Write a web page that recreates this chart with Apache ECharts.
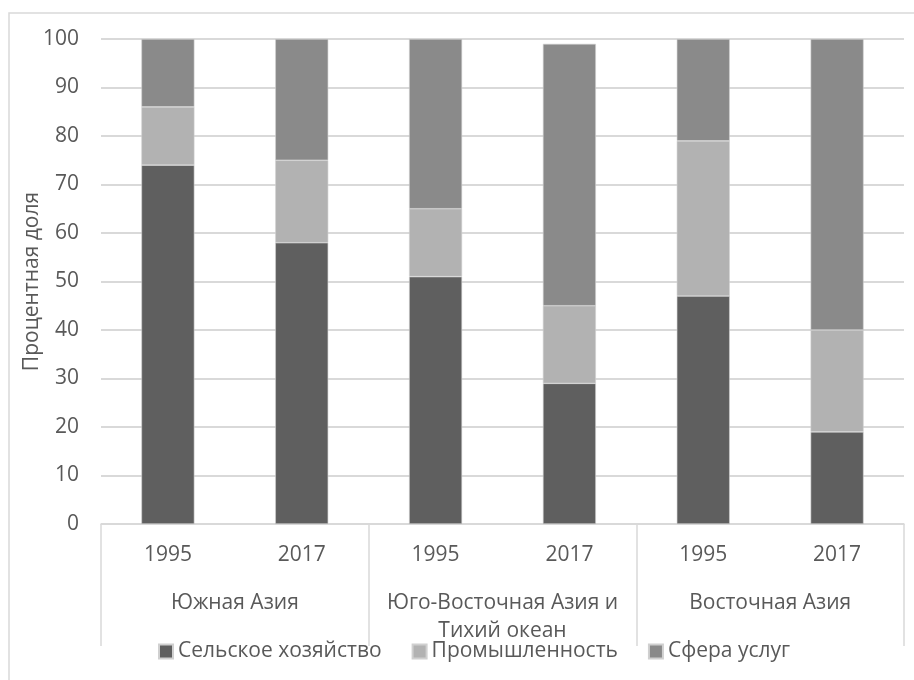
<!DOCTYPE html>
<html>
<head>
<meta charset="utf-8">
<script src="https://cdn.jsdelivr.net/npm/echarts@6/dist/echarts.min.js"></script>
<style>
  html, body { margin: 0; padding: 0; background: #fff; }
  #chart { width: 914px; height: 680px; }
</style>
</head>
<body>
<div id="chart"></div>
<script>
// Employment structure by sector, share in percent
const years = ['1995', '2017', '1995', '2017', '1995', '2017'];
const regions = ['Южная Азия', 'Юго-Восточная Азия и\nТихий океан', 'Восточная Азия'];
const seriesNames = ['Сельское хозяйство', 'Промышленность', 'Сфера услуг'];
const agriculture = [74, 58, 51, 29, 47, 19];
const industry = [12, 17, 14, 16, 32, 21];
const services = [14, 25, 35, 54, 21, 60];
const yTicks = [0, 10, 20, 30, 40, 50, 60, 70, 80, 90, 100];

const colors = ['#5f5f5f', '#b2b2b2', '#8a8a8a'];
const textColor = '#595959';
const lineColor = '#d9d9d9';
const fontFamily = '"Open Sans", "Noto Sans", sans-serif';
const fontSize = 21;

const chart = echarts.init(document.getElementById('chart'), null, { renderer: 'canvas' });

const values = [agriculture, industry, services];

chart.setOption({
  animation: false,
  textStyle: { fontFamily: fontFamily, color: textColor },
  graphic: [{
    type: 'rect',
    shape: { x: 9, y: 13, width: 1000, height: 1000 },
    style: { fill: 'none', stroke: lineColor, lineWidth: 1.5 },
    silent: true
  }],
  grid: { left: 101, right: 10, top: 39, bottom: 156, containLabel: false },
  legend: {
    data: seriesNames,
    left: 153,
    top: 636,
    icon: 'rect',
    itemWidth: 14,
    itemHeight: 14,
    itemGap: 30,
    textStyle: { fontSize: fontSize, color: textColor, fontFamily: fontFamily }
  },
  xAxis: [{
    type: 'category',
    data: years,
    position: 'bottom',
    axisLine: { show: true, lineStyle: { color: lineColor, width: 1.5 } },
    axisTick: { show: false },
    axisLabel: { interval: 0, fontSize: fontSize, color: textColor, margin: 21, fontFamily: fontFamily }
  }, {
    type: 'category',
    data: regions,
    position: 'bottom',
    axisLine: { show: false },
    axisTick: { show: true, interval: 0, length: 122, lineStyle: { color: lineColor, width: 1.5 } },
    axisLabel: { interval: 0, fontSize: fontSize, color: textColor, margin: 65, lineHeight: 28, fontFamily: fontFamily }
  }],
  yAxis: {
    type: 'value',
    min: yTicks[0],
    max: yTicks[yTicks.length - 1],
    interval: 10,
    name: 'Процентная доля',
    nameLocation: 'middle',
    nameGap: 58,
    nameMoveOverlap: false,
    nameTextStyle: { fontSize: fontSize, color: textColor, fontFamily: fontFamily },
    axisLine: { show: false },
    axisTick: { show: false },
    axisLabel: { fontSize: fontSize, color: textColor, margin: 22, fontFamily: fontFamily },
    splitLine: { lineStyle: { color: lineColor, width: 2 } }
  },
  series: seriesNames.map((name, i) => ({
    name: name,
    type: 'bar',
    stack: 'total',
    xAxisIndex: 0,
    barWidth: 53,
    data: values[i],
    itemStyle: { color: colors[i], borderColor: '#d0d0d0', borderWidth: 0.6 }
  }))
});
</script>
</body>
</html>
